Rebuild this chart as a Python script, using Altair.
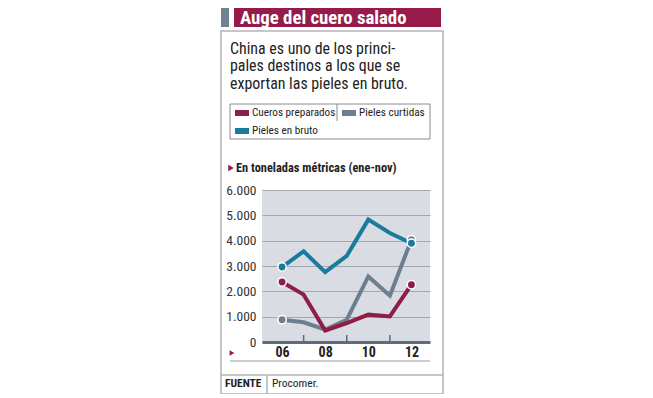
import altair as alt
import pandas as pd

# ---------------- data ----------------
years = [2006, 2007, 2008, 2009, 2010, 2011, 2012]
cueros_preparados = [2370, 1870, 450, 750, 1080, 1010, 2260]
pieles_curtidas = [880, 780, 490, 880, 2590, 1830, 4040]
pieles_en_bruto = [2960, 3580, 2760, 3400, 4830, 4300, 3900]
series_names = ["Cueros preparados", "Pieles curtidas", "Pieles en bruto"]
series_colors = ["#8e1d48", "#6d7f8f", "#1a7b9d"]
draw_order = ["Pieles curtidas", "Cueros preparados", "Pieles en bruto"]
y_ticks = [0, 1000, 2000, 3000, 4000, 5000, 6000]
x_label_years = [2006, 2008, 2010, 2012]
minor_tick_years = [2007, 2009, 2011]
endpoint_years = [2006, 2012]
title_text = "Auge del cuero salado"
desc_lines = ["China es uno de los princi-",
              "pales destinos a los que se",
              "exportan las pieles en bruto."]
unit_text = "En toneladas métricas (ene-nov)"
source_label = "FUENTE"
source_text = "Procomer."

FONT = "Liberation Sans Narrow, Roboto Condensed, Roboto, sans-serif"
RED = "#961b4a"
SLATE = "#6e8294"
AXIS = "#5d6d7e"
TXT = "#222222"

rows = []
for name, vals in zip(series_names, [cueros_preparados, pieles_curtidas, pieles_en_bruto]):
    for y, v in zip(years, vals):
        rows.append({"year": y, "series": name, "value": v})
df = pd.DataFrame(rows)

W, H = 168, 152

color_scale = alt.Scale(domain=series_names, range=series_colors)
x_scale = alt.Scale(domain=[2005.07, 2012.86], nice=False, zero=False)
x_axis = alt.Axis(values=x_label_years,
                  labelExpr="substring(format(datum.value,'d'),2)",
                  title=None, grid=False, ticks=False, domain=True,
                  domainColor=AXIS, domainWidth=3,
                  labelFontWeight="bold", labelFontSize=14,
                  labelPadding=3, labelColor=TXT, labelFont=FONT)
x_enc = alt.X("year:Q", scale=x_scale, axis=x_axis)
y_enc = alt.Y("value:Q",
              scale=alt.Scale(domain=[0, 6000], nice=False),
              axis=alt.Axis(values=y_ticks,
                            labelExpr="replace(format(datum.value, ','), ',', '.')",
                            title=None, grid=True, gridColor="#a3a7b0", gridWidth=1,
                            domain=False, ticks=False, labelFontSize=13.5,
                            labelPadding=6, labelColor="#333333", labelFont=FONT))

layers = []

one = pd.DataFrame({"k": [0]})


def rect(x, x2, y, y2, **kw):
    return alt.Chart(one).mark_rect(**kw).encode(
        x=alt.value(x), x2=alt.value(x2), y=alt.value(y), y2=alt.value(y2))


def rule(x, x2, y, y2, **kw):
    return alt.Chart(one).mark_rule(**kw).encode(
        x=alt.value(x), x2=alt.value(x2), y=alt.value(y), y2=alt.value(y2))


def text(s, x, y, size=13, weight="normal", color=TXT, baseline="middle"):
    return alt.Chart(one).mark_text(
        text=s, align="left", baseline=baseline, font=FONT, fontSize=size,
        fontWeight=weight, color=color).encode(x=alt.value(x), y=alt.value(y))


def tri(x, y, size=28):
    return alt.Chart(one).mark_point(
        shape="triangle-right", filled=True, size=size, color=RED, opacity=1
    ).encode(x=alt.value(x), y=alt.value(y))


# series lines (first, so their axes define the shared axes)
for name in draw_order:
    layers.append(alt.Chart(df).transform_filter(
        alt.datum.series == name).mark_line(strokeWidth=4, strokeJoin="miter").encode(
        x=x_enc, y=y_enc,
        color=alt.Color("series:N", scale=color_scale, legend=None)))

# minor ticks on the x axis
ticks_df = pd.DataFrame({"year": minor_tick_years})
layers.append(alt.Chart(ticks_df).mark_rule(color=AXIS, strokeWidth=1.5).encode(
    x=x_enc, y=alt.value(H), y2=alt.value(H - 7)))

# endpoints
end_expr = " || ".join(f"datum.year == {y}" for y in endpoint_years)
for name in draw_order:
    layers.append(alt.Chart(df).transform_filter(
        alt.datum.series == name).transform_filter(end_expr
    ).mark_circle(size=70, stroke="white", strokeWidth=1.5, opacity=1).encode(
        x=x_enc, y=y_enc,
        color=alt.Color("series:N", scale=color_scale, legend=None)))

# card frame
layers.append(rect(-41, 181, -159, 204, fill="white", fillOpacity=0,
                   stroke="#b5b5b5", strokeWidth=1.5))
# title bar
layers.append(rect(-41, -33, -182, -163, color=SLATE))
layers.append(rect(-28, 179, -182, -163, color=RED))
layers.append(text(title_text, -22, -166, size=18.8, weight="bold",
                   color="white", baseline="alphabetic"))
# description
for i, line in enumerate(desc_lines):
    layers.append(text(line, -32, -136.5 + 17.6 * i, size=15.9, baseline="alphabetic"))
# legend box
layers.append(rect(-32, 168, -86, -51, fill="white", fillOpacity=0,
                   stroke="#8a8a8a", strokeWidth=1))
layers.append(rule(75, 75, -86, -69, color="#8a8a8a", strokeWidth=1))
legend_pos = {"Cueros preparados": (-27, -77),
              "Pieles curtidas": (80, -77),
              "Pieles en bruto": (-27, -59)}
for name, col in zip(series_names, series_colors):
    lx, ly = legend_pos[name]
    layers.append(rect(lx, lx + 14, ly - 3, ly + 3, color=col))
    layers.append(text(name, lx + 17, ly, size=11.2))
# unit subtitle
layers.append(tri(-31, -22, size=40))
layers.append(text(unit_text, -26, -22, size=12.4, weight="bold"))
# bottom decorations
layers.append(tri(-30, 163, size=30))
layers.append(rule(-32, 168, 171, 171, color="#9a9a9a", strokeWidth=1))
layers.append(rule(-41, 181, 185, 185, color="#b5b5b5", strokeWidth=1.5))
layers.append(rule(5, 5, 185, 204, color="#b5b5b5", strokeWidth=1.5))
layers.append(text(source_label, -37, 194, size=11.5, weight="bold"))
layers.append(text(source_text, 10, 194, size=11.5))

chart = alt.layer(*layers).properties(
    width=W, height=H,
    autosize=alt.AutoSizeParams(type="none"),
    padding={"left": 254, "top": 182, "right": 20, "bottom": 52},
).configure_view(stroke=None, fill="#d9dce3")

chart.save("out.html", embed_options={"renderer": "svg", "actions": False})
